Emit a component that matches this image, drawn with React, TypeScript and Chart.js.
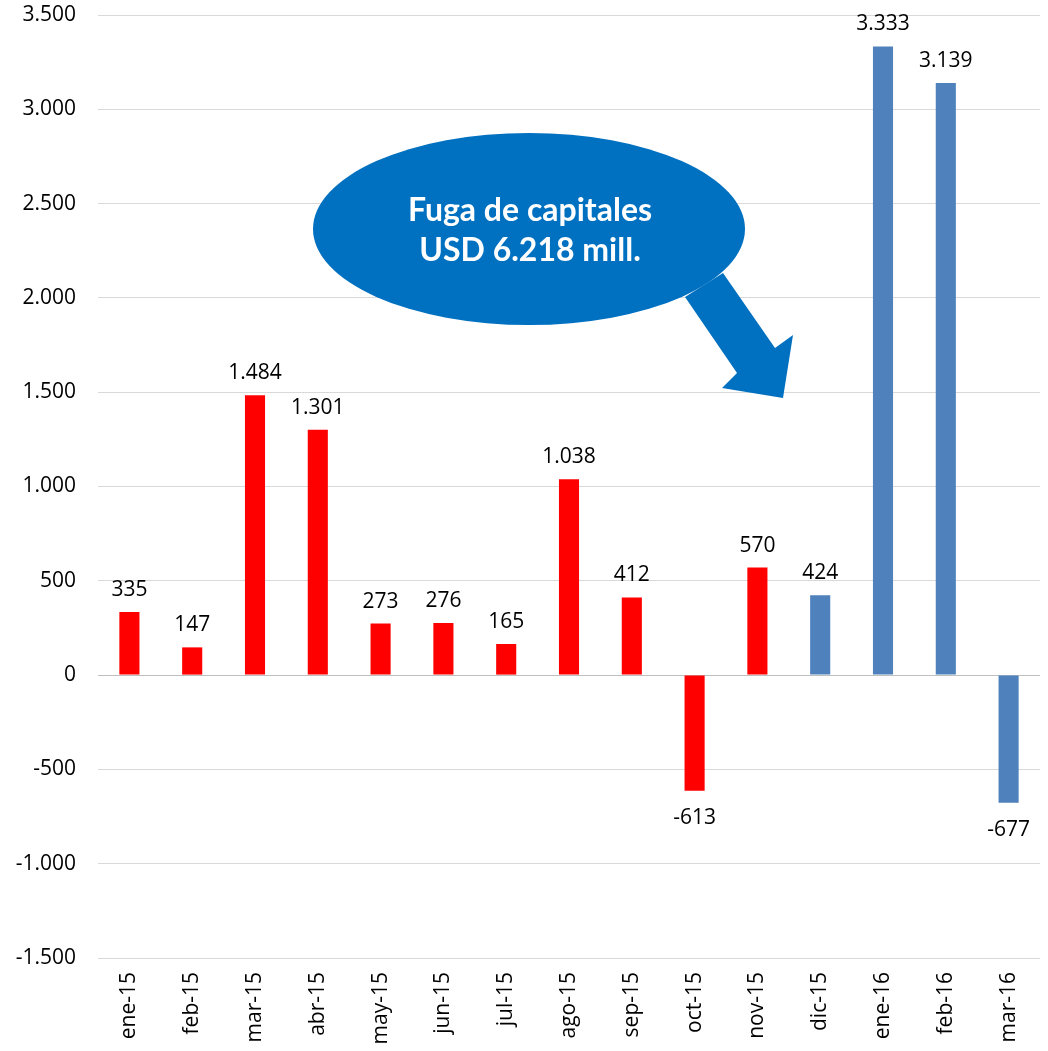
import React, { useEffect, useRef } from "react";
import { Chart, registerables } from "chart.js";

Chart.register(...registerables);

const categories = [
  "ene-15", "feb-15", "mar-15", "abr-15", "may-15", "jun-15", "jul-15", "ago-15",
  "sep-15", "oct-15", "nov-15", "dic-15", "ene-16", "feb-16", "mar-16",
];
const values = [335, 147, 1484, 1301, 273, 276, 165, 1038, 412, -613, 570, 424, 3333, 3139, -677];
const highlightFrom = "dic-15";
const yMin = -1500;
const yMax = 3500;
const yStep = 500;
const calloutLines = ["Fuga de capitales", "USD 6.218 mill."];

const RED = "#FF0000";
const BLUE = "#4F81BD";
const CALLOUT = "#0070C0";
const FONT = "'Open Sans', sans-serif";

function fmt(n: number): string {
  const neg = n < 0;
  const s = String(Math.abs(Math.round(n)));
  const parts: string[] = [];
  for (let i = s.length; i > 0; i -= 3) parts.unshift(s.substring(Math.max(0, i - 3), i));
  return (neg ? "-" : "") + parts.join(".");
}

const dataLabelPlugin = {
  id: "dataLabels",
  afterDatasetsDraw(chart: any) {
    const ctx = chart.ctx;
    const meta = chart.getDatasetMeta(0);
    ctx.save();
    ctx.font = `21px ${FONT}`;
    ctx.fillStyle = "#000";
    ctx.textAlign = "center";
    ctx.textBaseline = "middle";
    meta.data.forEach((el: any, i: number) => {
      const v = values[i];
      const y = v >= 0 ? el.y - 22 : el.y + 27;
      ctx.fillText(fmt(v), el.x, y);
    });
    ctx.restore();
  },
};

const calloutPlugin = {
  id: "callout",
  afterDraw(chart: any) {
    const ctx = chart.ctx;
    ctx.save();
    ctx.fillStyle = CALLOUT;
    ctx.beginPath();
    ctx.ellipse(529, 229, 216, 96, 0, 0, Math.PI * 2);
    ctx.fill();
    ctx.beginPath();
    ctx.moveTo(685, 297);
    ctx.lineTo(737, 373);
    ctx.lineTo(722, 388);
    ctx.lineTo(783, 398);
    ctx.lineTo(793, 335);
    ctx.lineTo(775, 348);
    ctx.lineTo(723, 273);
    ctx.closePath();
    ctx.fill();
    ctx.fillStyle = "#FFFFFF";
    ctx.font = `bold 32px Lato, ${FONT}`;
    ctx.textAlign = "center";
    ctx.textBaseline = "middle";
    ctx.fillText(calloutLines[0], 530, 211);
    ctx.fillText(calloutLines[1], 530, 251);
    ctx.restore();
  },
};

export default function App() {
  const ref = useRef<HTMLCanvasElement | null>(null);
  useEffect(() => {
    if (!ref.current) return;
    const hi = categories.indexOf(highlightFrom);
    const colors = categories.map((_, i) => (i >= hi ? BLUE : RED));
    const chart = new Chart(ref.current, {
      type: "bar",
      data: {
        labels: categories,
        datasets: [
          {
            data: values,
            backgroundColor: colors,
            borderWidth: 0,
            barPercentage: 0.32,
            categoryPercentage: 1,
          },
        ],
      },
      options: {
        animation: false,
        responsive: false,
        layout: { padding: { top: 15, right: 8, left: 0, bottom: 0 } },
        plugins: { legend: { display: false }, tooltip: { enabled: false } },
        scales: {
          x: {
            grid: { display: false, drawTicks: false },
            border: { display: false },
            ticks: {
              minRotation: 90,
              maxRotation: 90,
              padding: 14,
              color: "#000",
              font: { family: FONT, size: 21 },
              autoSkip: false,
            },
            afterFit(scale: any) {
              scale.height = 93;
              scale.paddingLeft = 0;
              scale.paddingRight = 0;
            },
          },
          y: {
            min: yMin,
            max: yMax,
            grid: {
              drawTicks: false,
              color: (c: any) => (c.tick && c.tick.value === 0 ? "#BFBFBF" : "#D9D9D9"),
              lineWidth: 1,
            },
            border: { display: false },
            ticks: {
              stepSize: yStep,
              padding: 22,
              color: "#000",
              font: { family: FONT, size: 21 },
              callback: (v: any) => fmt(Number(v)),
            },
            afterFit(scale: any) {
              scale.width = 98;
              scale.paddingTop = 0;
              scale.paddingBottom = 0;
            },
          },
        },
      },
      plugins: [dataLabelPlugin, calloutPlugin],
    });
    return () => chart.destroy();
  }, []);
  return (
    <div style={{ position: "absolute", left: 0, top: 0, width: 1048, height: 1051, background: "#fff" }}>
      <canvas ref={ref} width={1048} height={1051} style={{ display: "block" }} />
    </div>
  );
}
